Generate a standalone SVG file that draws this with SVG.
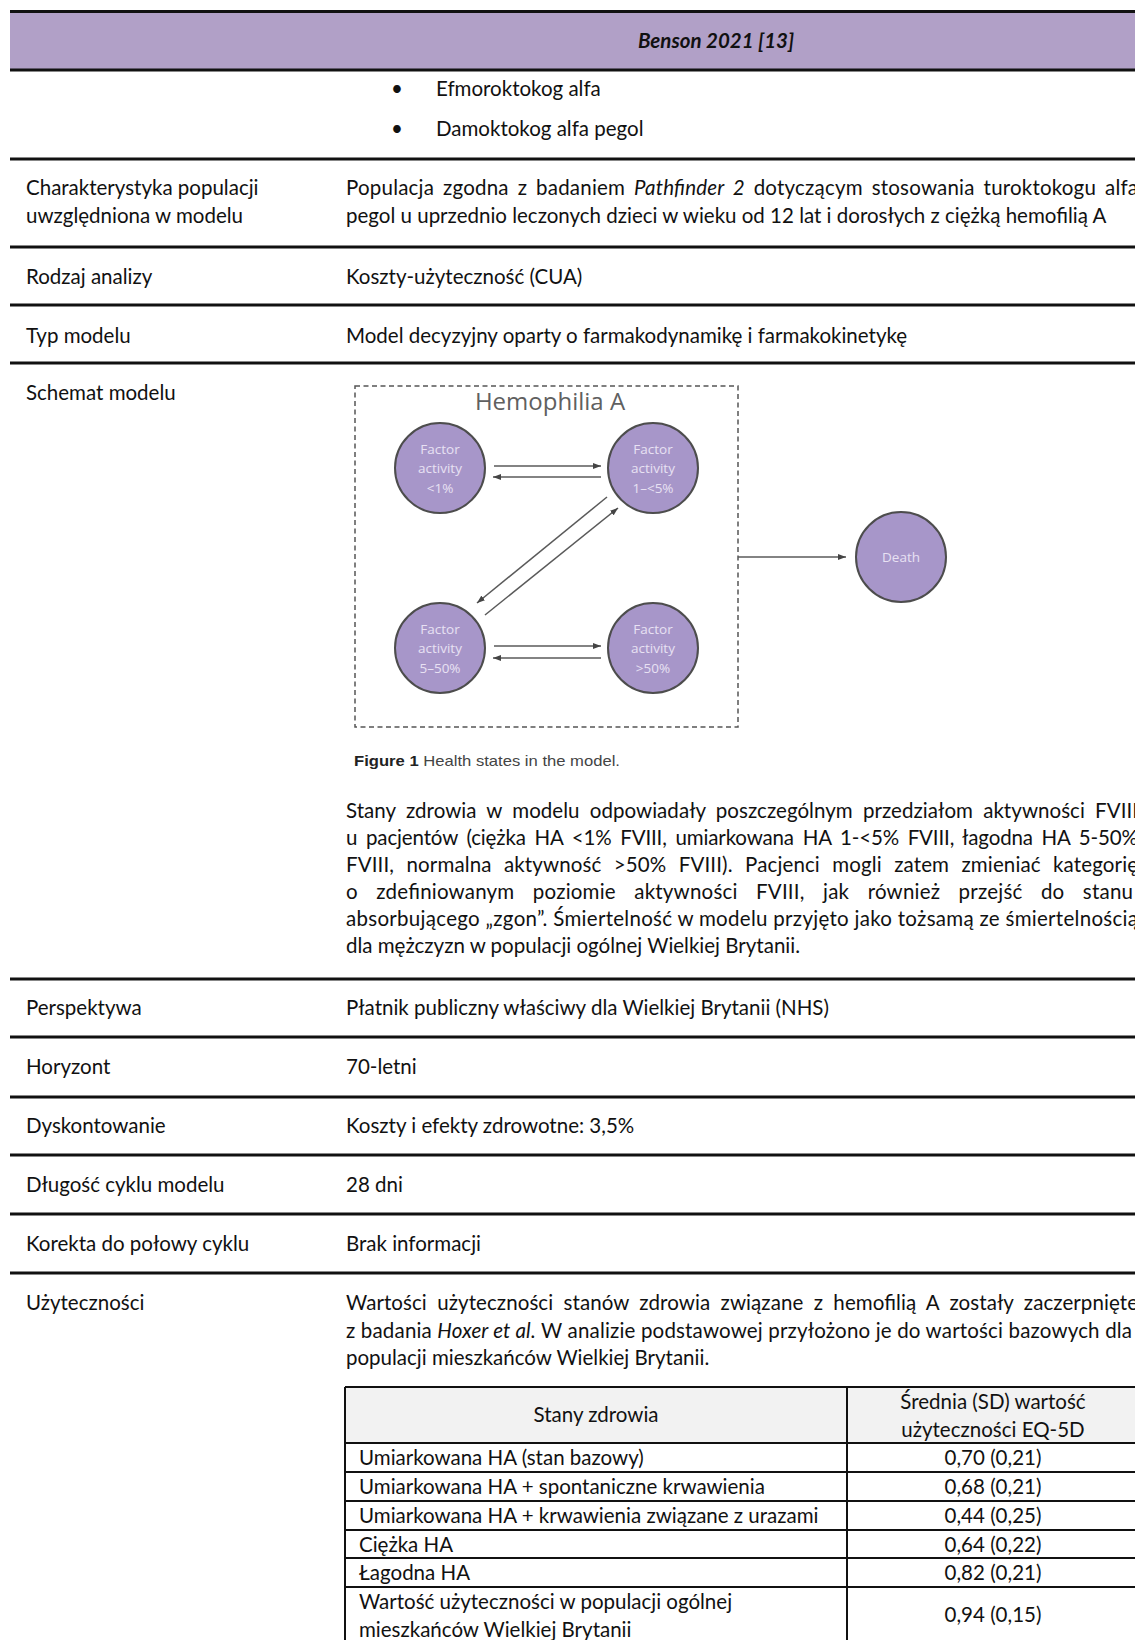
<svg xmlns="http://www.w3.org/2000/svg" width="1135" height="1640" viewBox="0 0 1135 1640">
<defs>
<style>
.t{font-family:Lato,"Noto Sans","Liberation Sans",sans-serif;font-size:20.5px;fill:#111}
.b{font-weight:bold}
.i{font-style:italic}
.rule{stroke:#111;stroke-width:3;fill:none}
.tl{stroke:#111;stroke-width:2;fill:none}
.node circle{fill:#A796C9;stroke:#4d4d4d;stroke-width:2}
.nt{font-family:"Open Sans","Noto Sans",sans-serif;font-size:13.5px;fill:#E8E1F3;text-anchor:middle}
.conn line{stroke:#5a5a5a;stroke-width:1.5}
</style>
<marker id="ah" viewBox="0 0 8 6" refX="8" refY="3" markerWidth="8" markerHeight="6" markerUnits="userSpaceOnUse" orient="auto">
<path d="M0,0 L8,3 L0,6 z" fill="#444"/>
</marker>
</defs>
<rect width="1135" height="1640" fill="#fff"/>

<!-- header band -->
<rect x="10" y="11.5" width="1125" height="58.5" fill="#B1A0C7"/>
<g class="rules">
<line class="rule" x1="10" y1="11.5" x2="1135" y2="11.5"/>
<line class="rule" x1="10" y1="70" x2="1135" y2="70"/>
<line class="rule" x1="10" y1="159" x2="1135" y2="159"/>
<line class="rule" x1="10" y1="247" x2="1135" y2="247"/>
<line class="rule" x1="10" y1="305" x2="1135" y2="305"/>
<line class="rule" x1="10" y1="363" x2="1135" y2="363"/>
<line class="rule" x1="10" y1="979" x2="1135" y2="979"/>
<line class="rule" x1="10" y1="1037" x2="1135" y2="1037"/>
<line class="rule" x1="10" y1="1097" x2="1135" y2="1097"/>
<line class="rule" x1="10" y1="1155" x2="1135" y2="1155"/>
<line class="rule" x1="10" y1="1214" x2="1135" y2="1214"/>
<line class="rule" x1="10" y1="1273" x2="1135" y2="1273"/>
</g>

<text class="t b i" x="716" y="48" text-anchor="middle" font-size="21.5">Benson 2021 [13]</text>

<text class="t" x="397" y="95.5" text-anchor="middle">•</text>
<text class="t" x="436" y="95.5">Efmoroktokog alfa</text>
<text class="t" x="397" y="136" text-anchor="middle">•</text>
<text class="t" x="436" y="136">Damoktokog alfa pegol</text>

<!-- left column labels -->
<text class="t" x="26" y="195">Charakterystyka populacji</text>
<text class="t" x="26" y="222.5">uwzględniona w modelu</text>
<text class="t" x="26" y="284">Rodzaj analizy</text>
<text class="t" x="26" y="343">Typ modelu</text>
<text class="t" x="26" y="400">Schemat modelu</text>
<text class="t" x="26" y="1015">Perspektywa</text>
<text class="t" x="26" y="1074">Horyzont</text>
<text class="t" x="26" y="1133">Dyskontowanie</text>
<text class="t" x="26" y="1192">Długość cyklu modelu</text>
<text class="t" x="26" y="1251">Korekta do połowy cyklu</text>
<text class="t" x="26" y="1310">Użyteczności</text>

<!-- right column -->
<text class="t" x="346" y="195" word-spacing="3.5" textLength="792" lengthAdjust="spacing">Populacja zgodna z badaniem <tspan class="i">Pathfinder 2</tspan> dotyczącym stosowania turoktokogu alfa</text>
<text class="t" x="346" y="222.5">pegol u uprzednio leczonych dzieci w wieku od 12 lat i dorosłych z ciężką hemofilią A</text>
<text class="t" x="346" y="284">Koszty-użyteczność (CUA)</text>
<text class="t" x="346" y="343">Model decyzyjny oparty o farmakodynamikę i farmakokinetykę</text>

<!-- figure -->
<g id="figure">
<rect x="355" y="386" width="383" height="341" fill="none" stroke="#555" stroke-width="1.5" stroke-dasharray="5,3.5"/>
<text x="550" y="410" text-anchor="middle" font-family="'Open Sans','Noto Sans',sans-serif" font-size="24" fill="#606060">Hemophilia A</text>
</g>
<g id="n1" class="node"><circle cx="440" cy="468" r="45"/>
<text class="nt" x="440" y="453.5">Factor</text><text class="nt" x="440" y="473">activity</text><text class="nt" x="440" y="492.5">&lt;1%</text></g>
<g id="n2" class="node"><circle cx="653" cy="468" r="45"/>
<text class="nt" x="653" y="453.5">Factor</text><text class="nt" x="653" y="473">activity</text><text class="nt" x="653" y="492.5">1–&lt;5%</text></g>
<g id="n3" class="node"><circle cx="440" cy="648" r="45"/>
<text class="nt" x="440" y="633.5">Factor</text><text class="nt" x="440" y="653">activity</text><text class="nt" x="440" y="672.5">5–50%</text></g>
<g id="n4" class="node"><circle cx="653" cy="648" r="45"/>
<text class="nt" x="653" y="633.5">Factor</text><text class="nt" x="653" y="653">activity</text><text class="nt" x="653" y="672.5">&gt;50%</text></g>
<g id="n5" class="node"><circle cx="901" cy="557" r="45"/>
<text class="nt" x="901" y="562" font-size="14">Death</text></g>
<g id="connectors" class="conn">
<line x1="494" y1="466" x2="601" y2="466" marker-end="url(#ah)"/>
<line x1="601" y1="477" x2="493" y2="477" marker-end="url(#ah)"/>
<line x1="494" y1="646" x2="601" y2="646" marker-end="url(#ah)"/>
<line x1="601" y1="658" x2="493" y2="658" marker-end="url(#ah)"/>
<line x1="607" y1="497" x2="477" y2="603" marker-end="url(#ah)"/>
<line x1="485" y1="615" x2="618" y2="508" marker-end="url(#ah)"/>
<line x1="738" y1="557" x2="846" y2="557" marker-end="url(#ah)"/>
</g>
<text x="354" y="766" font-family="'Liberation Sans',Arial,sans-serif" font-size="15" fill="#444" textLength="266" lengthAdjust="spacingAndGlyphs"><tspan font-weight="bold" fill="#222">Figure 1</tspan> Health states in the model.</text>

<text class="t" x="346" y="818" word-spacing="4.9" textLength="792" lengthAdjust="spacing">Stany zdrowia w modelu odpowiadały poszczególnym przedziałom aktywności FVIII</text>
<text class="t" x="346" y="845" word-spacing="3.6" textLength="792" lengthAdjust="spacing">u pacjentów (ciężka HA &lt;1% FVIII, umiarkowana HA 1-&lt;5% FVIII, łagodna HA 5-50%</text>
<text class="t" x="346" y="872" word-spacing="7" textLength="792" lengthAdjust="spacing">FVIII, normalna aktywność &gt;50% FVIII). Pacjenci mogli zatem zmieniać kategorię</text>
<text class="t" x="346" y="899" word-spacing="13" textLength="787" lengthAdjust="spacing">o zdefiniowanym poziomie aktywności FVIII, jak również przejść do stanu</text>
<text class="t" x="346" y="926" textLength="792" lengthAdjust="spacing">absorbującego „zgon”. Śmiertelność w modelu przyjęto jako tożsamą ze śmiertelnością</text>
<text class="t" x="346" y="953">dla mężczyzn w populacji ogólnej Wielkiej Brytanii.</text>

<text class="t" x="346" y="1015">Płatnik publiczny właściwy dla Wielkiej Brytanii (NHS)</text>
<text class="t" x="346" y="1074">70-letni</text>
<text class="t" x="346" y="1133">Koszty i efekty zdrowotne: 3,5%</text>
<text class="t" x="346" y="1192">28 dni</text>
<text class="t" x="346" y="1251">Brak informacji</text>

<text class="t" x="346" y="1310" word-spacing="5" textLength="792" lengthAdjust="spacing">Wartości użyteczności stanów zdrowia związane z hemofilią A zostały zaczerpnięte</text>
<text class="t" x="346" y="1337.5" textLength="786" lengthAdjust="spacing">z badania <tspan class="i">Hoxer et al.</tspan> W analizie podstawowej przyłożono je do wartości bazowych dla</text>
<text class="t" x="346" y="1365">populacji mieszkańców Wielkiej Brytanii.</text>

<!-- utility table -->
<g id="table">
<rect x="345" y="1387" width="794" height="56" fill="#F2F2F2"/>
<line class="tl" x1="345" y1="1387" x2="1139" y2="1387"/>
<line class="tl" x1="345" y1="1443" x2="1139" y2="1443"/>
<line class="tl" x1="345" y1="1472" x2="1139" y2="1472"/>
<line class="tl" x1="345" y1="1501" x2="1139" y2="1501"/>
<line class="tl" x1="345" y1="1530" x2="1139" y2="1530"/>
<line class="tl" x1="345" y1="1558" x2="1139" y2="1558"/>
<line class="tl" x1="345" y1="1587" x2="1139" y2="1587"/>
<line class="tl" x1="345" y1="1387" x2="345" y2="1645"/>
<line class="tl" x1="847" y1="1387" x2="847" y2="1645"/>
<text class="t" x="596" y="1422" text-anchor="middle">Stany zdrowia</text>
<text class="t" x="993" y="1409" text-anchor="middle">Średnia (SD) wartość</text>
<text class="t" x="993" y="1437" text-anchor="middle">użyteczności EQ-5D</text>
<text class="t" x="359" y="1465">Umiarkowana HA (stan bazowy)</text>
<text class="t" x="993" y="1465" text-anchor="middle">0,70 (0,21)</text>
<text class="t" x="359" y="1494">Umiarkowana HA + spontaniczne krwawienia</text>
<text class="t" x="993" y="1494" text-anchor="middle">0,68 (0,21)</text>
<text class="t" x="359" y="1523">Umiarkowana HA + krwawienia związane z urazami</text>
<text class="t" x="993" y="1523" text-anchor="middle">0,44 (0,25)</text>
<text class="t" x="359" y="1552">Ciężka HA</text>
<text class="t" x="993" y="1552" text-anchor="middle">0,64 (0,22)</text>
<text class="t" x="359" y="1580">Łagodna HA</text>
<text class="t" x="993" y="1580" text-anchor="middle">0,82 (0,21)</text>
<text class="t" x="359" y="1609">Wartość użyteczności w populacji ogólnej</text>
<text class="t" x="359" y="1637">mieszkańców Wielkiej Brytanii</text>
<text class="t" x="993" y="1622" text-anchor="middle">0,94 (0,15)</text>
</g>
</svg>
